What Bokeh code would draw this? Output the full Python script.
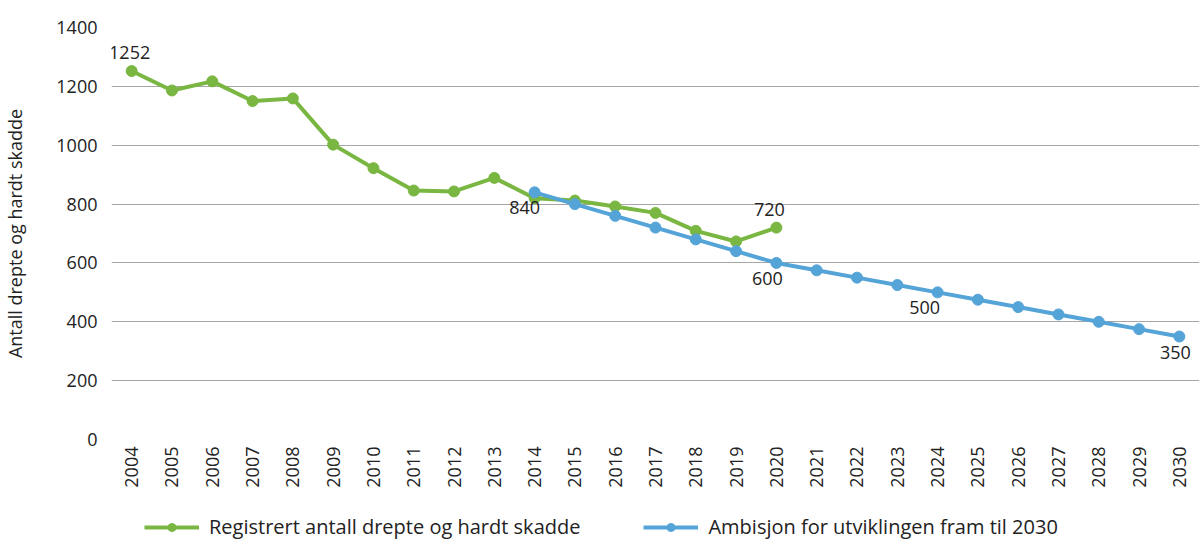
from math import pi
from bokeh.plotting import figure
from bokeh.layouts import column
from bokeh.models import ColumnDataSource, Legend, LegendItem, FactorRange
from bokeh.embed import file_html
from bokeh.resources import INLINE
from bokeh.core.properties import value

years = [str(y) for y in range(2004, 2031)]

reg_years = [str(y) for y in range(2004, 2021)]
reg_values = [1252, 1186, 1217, 1150, 1159, 1002, 922, 846, 843, 889, 820, 812, 792, 770, 709, 673, 720]

amb_years = [str(y) for y in range(2014, 2031)]
amb_values = [840, 800, 760, 720, 680, 640, 600, 575, 550, 525, 500, 475, 450, 425, 400, 375, 350]

label_years = ["2004", "2014", "2020", "2020", "2024", "2030"]
label_values = [1252, 840, 720, 600, 500, 350]
label_texts = ["1252", "840", "720", "600", "500", "350"]
label_above = [True, False, True, False, False, False]

series_names = ["Registrert antall drepte og hardt skadde", "Ambisjon for utviklingen fram til 2030"]

y_ticks = [0, 200, 400, 600, 800, 1000, 1200, 1400]

# styling
label_dx = [-2, -10, -7, -9, -13, -4]
GREEN = "#7ab742"
BLUE = "#55a4d8"
FONT = "Open Sans"
TXT = "#222222"

p = figure(x_range=FactorRange(*years), y_range=(0, 1400),
           width=1200, height=502, output_backend="svg", toolbar_location=None,
           min_border_left=107, min_border_right=1, min_border_top=27, min_border_bottom=63)
p.outline_line_color = None
p.background_fill_color = "white"
p.border_fill_color = "white"

p.xgrid.grid_line_color = None
p.ygrid.grid_line_color = "#a6a6a6"
p.ygrid.grid_line_width = 1.2

p.yaxis.ticker = y_ticks
p.yaxis.axis_line_color = None
p.yaxis.major_tick_line_color = None
p.yaxis.minor_tick_line_color = None
p.yaxis.major_tick_out = 0
p.yaxis.major_label_standoff = 14
p.yaxis.major_label_text_font = FONT
p.yaxis.major_label_text_font_size = "18px"
p.yaxis.major_label_text_color = TXT
p.yaxis.axis_label = "Antall drepte og hardt skadde"
p.yaxis.axis_label_text_font = FONT
p.yaxis.axis_label_text_font_size = "18px"
p.yaxis.axis_label_text_font_style = "normal"
p.yaxis.axis_label_text_color = TXT
p.yaxis.axis_label_standoff = 26

p.xaxis.axis_line_color = None
p.xaxis.major_tick_line_color = None
p.xaxis.major_tick_out = 0
p.xaxis.major_label_orientation = pi / 2
p.xaxis.major_label_standoff = 7
p.xaxis.major_label_text_font = FONT
p.xaxis.major_label_text_font_size = "18px"
p.xaxis.major_label_text_color = TXT

reg_src = ColumnDataSource(dict(x=reg_years, y=reg_values))
amb_src = ColumnDataSource(dict(x=amb_years, y=amb_values))

p.line("x", "y", source=reg_src, line_color=GREEN, line_width=4)
p.scatter("x", "y", source=reg_src, size=11, fill_color=GREEN, line_color=GREEN)
p.line("x", "y", source=amb_src, line_color=BLUE, line_width=4)
p.scatter("x", "y", source=amb_src, size=11, fill_color=BLUE, line_color=BLUE)

up = [i for i, a in enumerate(label_above) if a]
dn = [i for i, a in enumerate(label_above) if not a]
up_src = ColumnDataSource(dict(
    x=[label_years[i] for i in up], y=[label_values[i] for i in up],
    t=[label_texts[i] for i in up], dx=[label_dx[i] for i in up]))
dn_src = ColumnDataSource(dict(
    x=[label_years[i] for i in dn], y=[label_values[i] for i in dn],
    t=[label_texts[i] for i in dn], dx=[label_dx[i] for i in dn]))
p.text("x", "y", text="t", source=up_src, text_font=value(FONT), text_font_size="18px",
       text_color=TXT, text_align="center", text_baseline="bottom", x_offset="dx", y_offset=-12)
p.text("x", "y", text="t", source=dn_src, text_font=value(FONT), text_font_size="18px",
       text_color=TXT, text_align="center", text_baseline="top", x_offset="dx", y_offset=9)

# legend strip below the chart (its frame is aligned with the chart's frame)
lg = figure(width=1200, height=50, x_range=(0, 1), y_range=(0, 1),
            x_axis_location=None, y_axis_location=None,
            output_backend="svg", toolbar_location=None,
            min_border_left=0, min_border_right=0, min_border_top=0, min_border_bottom=0)
lg.grid.visible = False
lg.outline_line_color = None
lg.background_fill_color = "white"
lg.border_fill_color = "white"
off = dict(x=[-1, -2], y=[-1, -2])  # outside the visible range; only feeds the legend glyphs
l1 = lg.line("x", "y", source=ColumnDataSource(off), line_color=GREEN, line_width=4)
m1 = lg.scatter("x", "y", source=ColumnDataSource(off), size=11, fill_color=GREEN, line_color=GREEN)
l2 = lg.line("x", "y", source=ColumnDataSource(off), line_color=BLUE, line_width=4)
m2 = lg.scatter("x", "y", source=ColumnDataSource(off), size=11, fill_color=BLUE, line_color=BLUE)

legend = Legend(items=[
    LegendItem(label=series_names[0], renderers=[l1, m1]),
    LegendItem(label=series_names[1], renderers=[l2, m2]),
], location=(33, 12), orientation="horizontal")
legend.border_line_color = None
legend.background_fill_alpha = 0
legend.padding = 0
legend.margin = 0
legend.glyph_width = 55
legend.glyph_height = 20
legend.label_height = 20
legend.label_standoff = 10
legend.spacing = 63
legend.label_text_font = FONT
legend.label_text_font_size = "20px"
legend.label_text_color = TXT
legend.label_text_baseline = "middle"
lg.add_layout(legend, "center")

layout = column(p, lg, spacing=0)
open("out.html", "w").write(file_html(layout, INLINE))
